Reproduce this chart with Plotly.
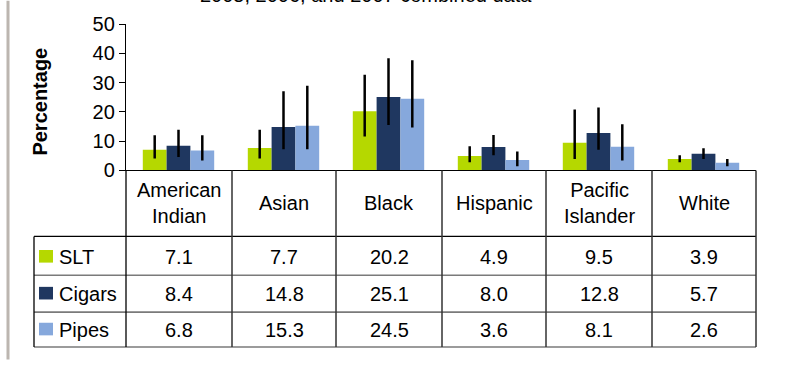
import plotly.graph_objects as go

# data
groups = ["American Indian", "Asian", "Black", "Hispanic", "Pacific Islander", "White"]
group_labels = ["American<br>Indian", "Asian", "Black", "Hispanic", "Pacific<br>Islander", "White"]

slt = [7.1, 7.7, 20.2, 4.9, 9.5, 3.9]
cigars = [8.4, 14.8, 25.1, 8.0, 12.8, 5.7]
pipes = [6.8, 15.3, 24.5, 3.6, 8.1, 2.6]

# confidence limits (estimated from the error bars)
slt_low = [4.1, 4.1, 11.6, 2.8, 3.9, 2.8]
slt_high = [12.0, 13.9, 32.7, 8.3, 20.8, 5.2]
cigars_low = [4.6, 7.2, 15.5, 5.2, 7.1, 3.9]
cigars_high = [13.9, 27.0, 38.3, 12.1, 21.5, 7.6]
pipes_low = [3.4, 7.2, 14.7, 1.4, 3.4, 1.4]
pipes_high = [12.0, 28.9, 37.6, 6.5, 15.8, 3.9]

series = [
    ("SLT", slt, slt_low, slt_high, "#b5d800"),
    ("Cigars", cigars, cigars_low, cigars_high, "#1f3760"),
    ("Pipes", pipes, pipes_low, pipes_high, "#86a8dc"),
]

title_text = "2005, 2006, and 2007 combined data"

# page geometry (pixels)
W, H = 806, 370
L, R, T, B = 34, 50, 24, 13
PW = W - L - R
PH = H - T - B
AX_LEFT, AX_BOTTOM = 126, 175
HEAD_BOTTOM = 243
ROW_LINES = [243, 283, 321, 357]
COL_LINES = [126, 232, 336, 442, 546, 652, 756]
FONT = "Liberation Sans, Arial, sans-serif"


def px_x(px):
    return (px - L) / PW


def px_y(py):
    return (H - B - py) / PH


def label(x, y, text, size=20, **kw):
    d = dict(xref="paper", yref="paper", x=px_x(x), y=px_y(y), text=text, showarrow=False,
             xanchor="center", yanchor="middle",
             font=dict(size=size, color="black", family=FONT))
    d.update(kw)
    return d


fig = go.Figure()
for name, vals, lo, hi, color in series:
    fig.add_trace(go.Bar(
        x=groups, y=vals, name=name, marker=dict(color=color, line=dict(width=0)),
        error_y=dict(type="data", symmetric=False,
                     array=[h - v for h, v in zip(hi, vals)],
                     arrayminus=[v - l for l, v in zip(lo, vals)],
                     color="black", thickness=2.5, width=0),
    ))

shapes = []
line_black = dict(color="black", width=1.3)
line_dark = dict(color="#333333", width=1.5)
line_gray = dict(color="#7a7a7a", width=1.6)

# table grid
shapes.append(dict(type="line", xref="paper", yref="paper",
                   x0=px_x(L), x1=px_x(756), y0=px_y(HEAD_BOTTOM), y1=px_y(HEAD_BOTTOM), line=line_black))
for ry in ROW_LINES[1:]:
    shapes.append(dict(type="line", xref="paper", yref="paper",
                       x0=px_x(L), x1=px_x(756), y0=px_y(ry), y1=px_y(ry), line=line_gray))
shapes.append(dict(type="line", xref="paper", yref="paper",
                   x0=px_x(L), x1=px_x(L), y0=px_y(HEAD_BOTTOM), y1=px_y(357), line=line_black))
for i, cx in enumerate(COL_LINES):
    ln = line_black if i == 0 else line_dark
    shapes.append(dict(type="line", xref="paper", yref="paper",
                       x0=px_x(cx), x1=px_x(cx), y0=px_y(AX_BOTTOM), y1=px_y(357), line=ln))

# gray frame edge on the left
shapes.append(dict(type="line", xref="paper", yref="paper",
                   x0=px_x(8), x1=px_x(8), y0=px_y(0), y1=px_y(H), line=dict(color="#bcb6b0", width=3)))

annotations = []
for i, lab in enumerate(group_labels):
    cx = (COL_LINES[i] + COL_LINES[i + 1]) / 2
    annotations.append(label(cx, 209, lab))

row_centers = [264, 302, 339]
for r, (name, vals, lo, hi, color) in enumerate(series):
    cy = row_centers[r]
    shapes.append(dict(type="rect", xref="paper", yref="paper",
                       x0=px_x(39), x1=px_x(53), y0=px_y(cy + 6), y1=px_y(cy - 7),
                       fillcolor=color, line=dict(width=0)))
    annotations.append(label(57, cy, name, xanchor="left"))
    for i, v in enumerate(vals):
        cx = (COL_LINES[i] + COL_LINES[i + 1]) / 2
        annotations.append(label(cx, cy, "%.1f" % v))

annotations.append(label(40, 104, "<b>Percentage</b>", textangle=-90))
annotations.append(label(366, 7, title_text, yanchor="bottom"))

fig.update_layout(
    width=W, height=H,
    margin=dict(l=L, r=R, t=T, b=B),
    paper_bgcolor="white", plot_bgcolor="white",
    barmode="group", bargap=0.32, bargroupgap=0,
    showlegend=False,
    font=dict(family=FONT, size=20, color="black"),
    xaxis=dict(domain=[px_x(AX_LEFT), 1], showticklabels=False, ticks="",
               showline=True, linecolor="black", linewidth=1.3, showgrid=False, zeroline=False),
    yaxis=dict(domain=[px_y(AX_BOTTOM), 1], range=[0, 50], dtick=10, ticks="outside", ticklen=6,
               tickcolor="black", showline=True, linecolor="black", linewidth=1.3,
               showgrid=False, zeroline=False, tickfont=dict(size=20)),
    shapes=shapes, annotations=annotations,
)

# drop the default page margin so the figure sits at the window's corner
fig.write_html("out.html", config={"displayModeBar": False},
               post_script="document.body.style.margin='0px';")
